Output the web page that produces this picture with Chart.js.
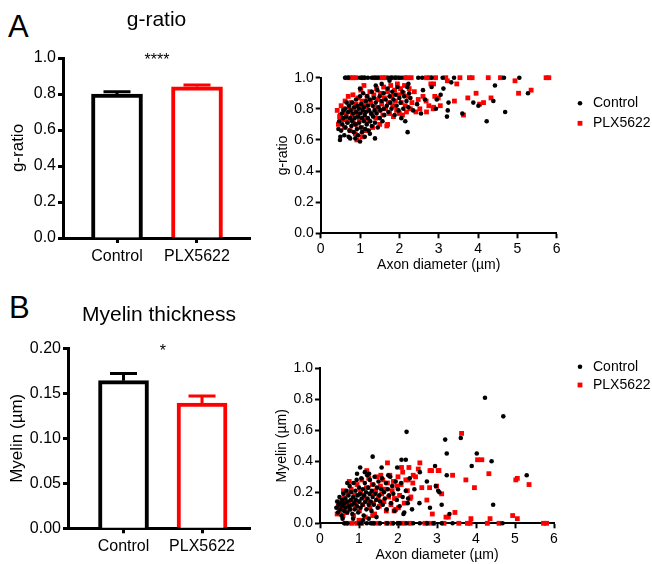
<!DOCTYPE html>
<html>
<head>
<meta charset="utf-8">
<script src="https://cdn.jsdelivr.net/npm/chart.js@4"></script>
<style>
  body { margin: 0; background: #fff; width: 652px; height: 564px; position: relative; overflow: hidden;
         font-family: "Liberation Sans", Arial, sans-serif; }
  canvas { position: absolute; }
  .tag { position: absolute; font-size: 31px; line-height: 31px; color: #000; }
</style>
</head>
<body>
<div class="tag" style="left:8px;top:11px">A</div>
<div class="tag" style="left:9px;top:292px">B</div>
<canvas id="barGratio" width="260" height="280" style="left:0;top:0"></canvas>
<canvas id="dotGratio" width="392" height="230" style="left:260px;top:50px"></canvas>
<canvas id="barMyelin" width="260" height="274" style="left:0;top:290px"></canvas>
<canvas id="dotMyelin" width="392" height="224" style="left:260px;top:340px"></canvas>
<script>
// group summaries (mean, SEM)
const groups = ['Control', 'PLX5622'];
const gratioMean = [0.80, 0.84];
const gratioSem = [0.012, 0.010];
const myelinMean = [0.164, 0.139];
const myelinSem = [0.008, 0.008];

// single axons: [axon diameter (µm), g-ratio]
const gratioCtrl = [
  [0.62,1],[0.70,1],[1.0,1],[1.05,1],[1.12,1],[1.2,1],[1.3,1],[1.38,1],[1.45,1],[1.72,1],[1.8,1],[1.9,1],[2.0,1],
  [2.05,1],[2.48,1],[2.58,1],[2.82,1],[3.1,1],[3.39,1],[4.66,1],[5.05,1],
  [0.45,0.67],[0.47,0.72],[0.50,0.62],[0.52,0.66],[0.54,0.77],[0.55,0.70],[0.57,0.74],[0.58,0.79],[0.60,0.63],
  [0.62,0.80],[0.63,0.68],[0.65,0.75],[0.66,0.84],[0.68,0.71],[0.70,0.78],[0.71,0.62],[0.72,0.82],[0.73,0.66],
  [0.75,0.74],[0.75,0.61],[0.76,0.79],[0.78,0.69],[0.80,0.84],[0.80,0.72],[0.82,0.77],[0.84,0.65],[0.85,0.81],
  [0.86,0.74],[0.88,0.70],[0.88,0.61],[0.90,0.86],[0.90,0.78],[0.92,0.67],[0.93,0.82],[0.95,0.75],[0.95,0.63],
  [0.97,0.80],[0.98,0.71],[1.00,0.88],[1.00,0.77],[1.00,0.93],[1.02,0.68],[1.03,0.83],[1.05,0.74],[1.05,0.65],
  [1.07,0.79],[1.08,0.90],[1.10,0.72],[1.10,0.81],[1.12,0.76],[1.12,0.62],[1.13,0.67],[1.15,0.85],[1.15,0.78],
  [1.17,0.70],[1.18,0.88],[1.20,0.74],[1.20,0.82],[1.22,0.66],[1.23,0.79],[1.25,0.86],[1.25,0.64],[1.26,0.72],
  [1.28,0.77],[1.30,0.91],[1.30,0.69],[1.32,0.82],[1.33,0.75],[1.35,0.87],[1.37,0.79],[1.38,0.71],[1.40,0.84],
  [1.40,0.95],[1.42,0.77],[1.44,0.92],[1.45,0.68],[1.47,0.81],[1.50,0.88],[1.50,0.74],[1.52,0.79],[1.55,0.85],
  [1.55,0.96],[1.57,0.72],[1.60,0.90],[1.60,0.80],[1.62,0.76],[1.65,0.86],[1.68,0.82],[1.70,0.93],[1.72,0.78],
  [1.75,0.88],[1.75,0.98],[1.77,0.84],[1.80,0.80],[1.82,0.91],[1.85,0.86],[1.88,0.76],[1.90,0.89],[1.93,0.82],
  [1.95,0.94],[1.98,0.79],[2.00,0.87],[2.03,0.84],[2.05,0.74],[2.08,0.91],[2.10,0.80],[2.12,0.88],[2.15,0.72],
  [2.18,0.85],[2.20,0.94],[2.23,0.81],[2.25,0.90],[2.28,0.87],[2.35,0.79],[2.45,0.83],
  [2.55,0.77],[2.60,0.92],[2.65,0.86],[2.82,0.94],[3.12,0.93],[3.32,0.97],[2.95,0.86],[3.05,0.89],[3.25,0.84],
  [2.93,0.80],[3.23,0.79],[3.21,0.75],[3.60,0.77],[3.88,0.84],[4.01,0.82],[4.39,0.85],[4.43,0.95],[4.22,0.72],
  [4.69,0.78],[5.27,0.90],[2.21,0.65],[2.23,0.96],[1.38,0.61],[1.00,0.59],[0.49,0.60]
];
const gratioPlx = [
  [0.67,1],[0.75,1],[0.82,1],[0.9,1],[1.08,1],[1.37,1],[1.5,1],[1.58,1],[1.65,1],[1.81,1],[1.93,1],[2.14,1],
  [2.2,1],[2.3,1],[2.69,1],[2.78,1],[2.92,1],[3.18,1],[3.54,1],[3.78,1],[3.85,1],[4.26,1],[4.57,1],[5.73,1],[5.8,1],
  [0.42,0.79],[0.45,0.70],[0.48,0.75],[0.50,0.76],[0.52,0.82],[0.55,0.73],[0.58,0.80],[0.60,0.68],[0.62,0.85],
  [0.65,0.77],[0.65,0.73],[0.68,0.72],[0.70,0.88],[0.72,0.81],[0.75,0.66],[0.77,0.84],[0.80,0.76],[0.82,0.89],
  [0.83,0.71],[0.85,0.80],[0.88,0.64],[0.90,0.83],[0.90,0.70],[0.92,0.60],[0.93,0.77],[0.95,0.87],[0.98,0.73],
  [1.00,0.81],[1.02,0.92],[1.04,0.68],[1.05,0.85],[1.05,0.62],[1.08,0.78],[1.10,0.95],[1.12,0.74],[1.14,0.83],
  [1.15,0.66],[1.18,0.88],[1.20,0.79],[1.22,0.72],[1.25,0.91],[1.27,0.84],[1.30,0.77],[1.32,0.68],[1.35,0.89],
  [1.38,0.81],[1.40,0.74],[1.42,0.93],[1.45,0.86],[1.48,0.79],[1.50,0.70],[1.52,0.90],[1.55,0.83],[1.58,0.76],
  [1.60,0.94],[1.62,0.87],[1.65,0.80],[1.68,0.69],[1.70,0.91],[1.70,0.70],[1.72,0.84],[1.75,0.77],[1.78,0.95],
  [1.80,0.88],[1.83,0.82],[1.85,0.75],[1.88,0.92],[1.90,0.85],[1.93,0.79],[1.95,0.96],[1.98,0.89],[2.00,0.77],
  [2.03,0.93],[2.05,0.84],[2.08,0.76],[2.10,0.90],[2.13,0.95],[2.15,0.82],[2.18,0.78],[2.22,0.88],[2.25,0.93],
  [2.28,0.80],[2.32,0.84],[2.38,0.91],[2.42,0.78],[2.48,0.86],[2.52,0.80],[2.60,0.88],[2.68,0.85],[2.75,0.82],
  [2.80,0.96],[2.90,0.88],
  [3.22,0.98],[3.46,0.96],[4.94,0.98],[3.74,0.87],[3.95,0.90],[4.14,0.84],[4.04,0.83],[4.33,0.87],[5.03,0.90],
  [5.35,0.92],[3.63,0.76],[3.40,0.85],[3.04,0.82],[2.87,0.81],[2.99,0.87],[2.87,0.96],[2.69,0.78],[2.86,0.80]
];

// single axons: [axon diameter (µm), myelin thickness (µm)]
const myelinCtrl = [
  [0.62,0],[0.70,0],[1.0,0],[1.05,0],[1.2,0],[1.3,0],[1.38,0],[1.54,0],[1.72,0],[1.88,0],[2.0,0],[2.05,0],
  [2.22,0],[2.39,0],[2.56,0],[2.74,0],[2.91,0],[3.12,0],[3.40,0],[4.68,0],
  [0.42,0.10],[0.44,0.14],[0.46,0.07],[0.48,0.12],[0.50,0.17],[0.52,0.09],[0.54,0.13],[0.55,0.05],[0.57,0.15],
  [0.58,0.11],[0.60,0.19],[0.62,0.08],[0.63,0.13],[0.65,0.16],[0.66,0.10],[0.68,0.21],[0.70,0.07],[0.71,0.14],
  [0.73,0.18],[0.74,0.11],[0.76,0.24],[0.77,0.09],[0.79,0.15],[0.80,0.20],[0.82,0.12],[0.83,0.06],[0.85,0.17],
  [0.86,0.26],[0.88,0.13],[0.89,0.09],[0.91,0.21],[0.92,0.15],[0.94,0.28],[0.95,0.11],[0.97,0.18],[0.98,0.07],
  [1.00,0.23],[1.01,0.14],[1.03,0.19],[1.04,0.10],[1.06,0.29],[1.07,0.16],[1.09,0.12],[1.10,0.22],[1.12,0.05],
  [1.13,0.18],[1.15,0.26],[1.16,0.14],[1.18,0.20],[1.19,0.09],[1.21,0.31],[1.22,0.16],[1.24,0.23],[1.25,0.12],
  [1.27,0.19],[1.28,0.28],[1.30,0.14],[1.32,0.08],[1.33,0.21],[1.35,0.17],[1.37,0.25],[1.38,0.12],[1.40,0.30],
  [1.42,0.19],[1.44,0.15],[1.46,0.23],[1.48,0.10],[1.50,0.27],[1.52,0.18],[1.54,0.14],[1.57,0.22],[1.59,0.29],
  [1.61,0.12],[1.64,0.20],[1.66,0.16],[1.69,0.26],[1.71,0.09],[1.74,0.22],[1.77,0.18],[1.80,0.30],[1.82,0.13],
  [1.85,0.24],[1.88,0.19],[1.91,0.08],[1.94,0.27],[1.97,0.15],[2.00,0.22],[2.04,0.11],[2.08,0.26],[2.12,0.17],
  [2.16,0.07],[2.20,0.21],[2.25,0.13],[2.30,0.29],[2.36,0.09],[2.42,0.22],
  [0.95,0.32],[1.15,0.33],[0.58,0.03],[1.25,0.03],[1.10,0.02],[0.85,0.03],[1.45,0.04],[0.70,0.26],
  [2.22,0.59],[1.35,0.43],[1.03,0.36],[2.09,0.41],[2.20,0.41],[1.58,0.36],[1.98,0.36],[2.56,0.33],[2.74,0.27],
  [1.26,0.32],[1.75,0.31],[3.03,0.21],[2.55,0.13],[2.26,0.16],[2.14,0.06],
  [4.23,0.81],[4.70,0.69],[3.21,0.54],[3.61,0.55],[3.25,0.45],[4.02,0.45],[4.40,0.40],[3.89,0.37],[2.95,0.37],
  [5.30,0.31],[3.25,0.31],[2.97,0.24],[3.06,0.20],[3.12,0.12],[4.44,0.12],[2.82,0.10],[3.32,0.06]
];
const myelinPlx = [
  [0.67,0],[0.81,0],[0.94,0],[1.07,0],[1.37,0],[1.5,0],[1.71,0],[1.84,0],[2.01,0],[2.14,0],[2.31,0],[2.69,0],
  [2.78,0],[2.91,0],[3.18,0],[3.56,0],[3.78,0],[3.85,0],[4.29,0],[4.59,0],[5.73,0],[5.81,0],
  [0.44,0.06],[0.47,0.11],[0.50,0.08],[0.53,0.14],[0.56,0.10],[0.59,0.05],[0.60,0.21],[0.62,0.16],[0.65,0.12],
  [0.68,0.07],[0.71,0.19],[0.74,0.13],[0.75,0.27],[0.77,0.09],[0.80,0.22],[0.83,0.15],[0.86,0.05],[0.89,0.18],
  [0.92,0.11],[0.95,0.25],[0.98,0.14],[1.00,0.02],[1.01,0.08],[1.04,0.20],[1.07,0.28],[1.10,0.12],[1.13,0.17],
  [1.16,0.04],[1.19,0.23],[1.20,0.34],[1.22,0.14],[1.25,0.29],[1.28,0.10],[1.31,0.19],[1.34,0.25],[1.35,0.05],
  [1.37,0.13],[1.40,0.06],[1.43,0.21],[1.46,0.30],[1.49,0.16],[1.52,0.11],[1.55,0.24],[1.58,0.19],[1.61,0.28],
  [1.64,0.14],[1.67,0.22],[1.70,0.08],[1.73,0.26],[1.76,0.17],[1.79,0.31],[1.82,0.12],[1.85,0.21],[1.88,0.27],
  [1.90,0.08],[1.91,0.16],[1.94,0.09],[1.97,0.24],[2.00,0.30],[2.04,0.18],[2.08,0.25],[2.12,0.33],[2.16,0.13],
  [2.20,0.28],[2.24,0.21],[2.28,0.36],[2.33,0.17],[2.38,0.26],[2.45,0.30],[2.52,0.35],
  [1.73,0.39],[2.09,0.36],[2.56,0.39],[2.82,0.34],[3.03,0.34],[2.39,0.31],[1.56,0.31],[2.26,0.28],[2.61,0.23],
  [2.74,0.15],[2.31,0.16],[2.01,0.10],
  [3.63,0.58],[4.04,0.41],[4.15,0.41],[2.86,0.34],[3.05,0.34],[3.40,0.31],[4.33,0.32],[3.74,0.28],[5.06,0.29],
  [5.02,0.28],[5.36,0.25],[3.96,0.23],[2.81,0.23],[3.12,0.19],[2.99,0.24],[2.88,0.06],[3.46,0.07],[3.23,0.04],
  [3.29,0.04],[3.87,0.03],[4.36,0.03],[4.94,0.05],[5.06,0.03]
];

const groupColors = ['#000000', '#ff0000'];

Chart.defaults.font.family = '"Liberation Sans", Arial, sans-serif';
Chart.defaults.color = '#000';

// error bars (upper only) and significance stars
const barExtras = {
  id: 'barExtras',
  afterDatasetsDraw(chart, args, opts) {
    const { ctx, scales: { x, y } } = chart;
    const ds = chart.data.datasets[0];
    ctx.save();
    chart.getDatasetMeta(0).data.forEach((bar, i) => {
      const cap = y.getPixelForValue(ds.data[i].y + ds.sem[i]);
      ctx.strokeStyle = ds.borderColor[i];
      ctx.lineWidth = 3;
      ctx.beginPath();
      ctx.moveTo(bar.x, bar.y);
      ctx.lineTo(bar.x, cap);
      ctx.moveTo(bar.x - 13.5, cap);
      ctx.lineTo(bar.x + 13.5, cap);
      ctx.stroke();
    });
    ctx.fillStyle = '#000';
    ctx.font = '16px "Liberation Sans", Arial, sans-serif';
    ctx.textAlign = 'center';
    ctx.textBaseline = 'middle';
    ctx.fillText(opts.stars, x.getPixelForValue(0.5), y.top + 3);
    ctx.restore();
  }
};

// legend to the right of the scatter plots
const sideLegend = {
  id: 'sideLegend',
  afterDraw(chart, args, opts) {
    const ctx = chart.ctx;
    ctx.save();
    ctx.font = '14px "Liberation Sans", Arial, sans-serif';
    ctx.textBaseline = 'middle';
    chart.data.datasets.forEach((ds, i) => {
      const y = opts.y[i];
      ctx.fillStyle = ds.backgroundColor;
      if (ds.pointStyle === 'rect') {
        ctx.fillRect(opts.x - 2.4, y - 2.4, 4.8, 4.8);
      } else {
        ctx.beginPath();
        ctx.arc(opts.x, y, 2.3, 0, Math.PI * 2);
        ctx.fill();
      }
      ctx.fillStyle = '#000';
      ctx.fillText(ds.label, opts.x + 13, y);
    });
    ctx.restore();
  }
};

function barChart(id, means, sems, o) {
  return new Chart(document.getElementById(id), {
    type: 'bar',
    data: {
      datasets: [{
        data: means.map((v, i) => ({ x: i, y: v })),
        sem: sems,
        backgroundColor: '#ffffff',
        borderColor: groupColors,
        borderWidth: 4,
        borderSkipped: 'start',
        barThickness: o.barW
      }]
    },
    options: {
      responsive: false,
      animation: false,
      layout: { padding: { left: 0, right: 10, top: 0, bottom: 0 } },
      plugins: {
        legend: { display: false },
        tooltip: { enabled: false },
        title: {
          display: true, text: o.title, fullSize: false, color: '#000',
          font: { size: 21, weight: 'normal' },
          padding: { top: o.titleTop, bottom: o.titleBottom }
        },
        barExtras: { stars: o.stars }
      },
      scales: {
        x: {
          type: 'linear', min: o.xMin, max: o.xMax, offset: false,
          afterFit: s => { s.height = o.xH; },
          afterBuildTicks: s => { s.ticks = groups.map((g, i) => ({ value: i })); },
          grid: { offset: false, drawOnChartArea: false, tickLength: 5, tickWidth: 3, color: '#000' },
          border: { color: '#000', width: 3 },
          ticks: { callback: v => groups[v], font: { size: 16 }, padding: 4, maxRotation: 0, autoSkip: false }
        },
        y: {
          min: 0, max: o.yMax,
          afterFit: s => { s.width = o.yW; },
          grid: { drawOnChartArea: false, tickLength: 5, tickWidth: 3, color: '#000' },
          border: { color: '#000', width: 3 },
          ticks: { stepSize: o.step, callback: v => v.toFixed(o.dec), font: { size: 16 }, padding: 2 },
          title: { display: true, text: o.yTitle, font: { size: 17 }, padding: { top: o.yTitlePad } }
        }
      }
    },
    plugins: [barExtras]
  });
}

function scatterChart(id, ctrl, plx, o) {
  return new Chart(document.getElementById(id), {
    type: 'scatter',
    data: {
      datasets: [
        { label: groups[0], data: ctrl.map(p => ({ x: p[0], y: p[1] })), pointStyle: 'circle',
          pointRadius: 2.3, backgroundColor: groupColors[0], borderWidth: 0, clip: false },
        { label: groups[1], data: plx.map(p => ({ x: p[0], y: p[1] })), pointStyle: 'rect',
          pointRadius: 3.4, backgroundColor: groupColors[1], borderWidth: 0, clip: false }
      ]
    },
    options: {
      responsive: false,
      animation: false,
      layout: { padding: { left: 0, right: o.padR, top: o.padT, bottom: 0 } },
      plugins: {
        legend: { display: false },
        tooltip: { enabled: false },
        sideLegend: { x: 320, y: o.legendY }
      },
      scales: {
        x: {
          type: 'linear', min: 0, max: 6,
          afterFit: s => { s.height = o.xH; },
          grid: { drawOnChartArea: false, tickLength: 5, tickWidth: 2, color: '#000' },
          border: { color: '#000', width: 2 },
          ticks: { stepSize: 1, font: { size: 14 }, padding: 2 },
          title: { display: true, text: 'Axon diameter (µm)', font: { size: 14 }, padding: { bottom: o.xTitlePad } }
        },
        y: {
          min: 0, max: 1,
          afterFit: s => { s.width = o.yW; },
          grid: { drawOnChartArea: false, tickLength: 5, tickWidth: 2, color: '#000' },
          border: { color: '#000', width: 2 },
          ticks: { stepSize: 0.2, callback: v => v.toFixed(1), font: { size: 14 }, padding: 2 },
          title: { display: true, text: o.yTitle, font: { size: 14 }, padding: { top: o.yTitlePad } }
        }
      }
    },
    plugins: [sideLegend]
  });
}

barChart('barGratio', gratioMean, gratioSem, {
  title: 'g-ratio', titleTop: 8, titleBottom: 24.8, stars: '****',
  xMin: -0.675, xMax: 1.6625, xH: 42, yW: 63, barW: 51,
  yMax: 1.0, step: 0.2, dec: 1, yTitle: 'g-ratio', yTitlePad: 8
});
barChart('barMyelin', myelinMean, myelinSem, {
  title: 'Myelin thickness', titleTop: 12.4, titleBottom: 20.7, stars: '*',
  xMin: -0.707, xMax: 1.611, xH: 35.7, yW: 68, barW: 50,
  yMax: 0.2, step: 0.05, dec: 2, yTitle: 'Myelin (µm)', yTitlePad: 7
});
scatterChart('dotGratio', gratioCtrl, gratioPlx, {
  padT: 27.7, padR: 95.3, xH: 46.7, yW: 60.7, xTitlePad: 6.6, yTitlePad: 15,
  yTitle: 'g-ratio', legendY: [53.3, 73.3]
});
scatterChart('dotMyelin', myelinCtrl, myelinPlx, {
  padT: 28.3, padR: 98, xH: 40.7, yW: 60, xTitlePad: 0, yTitlePad: 13.3,
  yTitle: 'Myelin (µm)', legendY: [26.7, 45]
});
</script>
</body>
</html>
